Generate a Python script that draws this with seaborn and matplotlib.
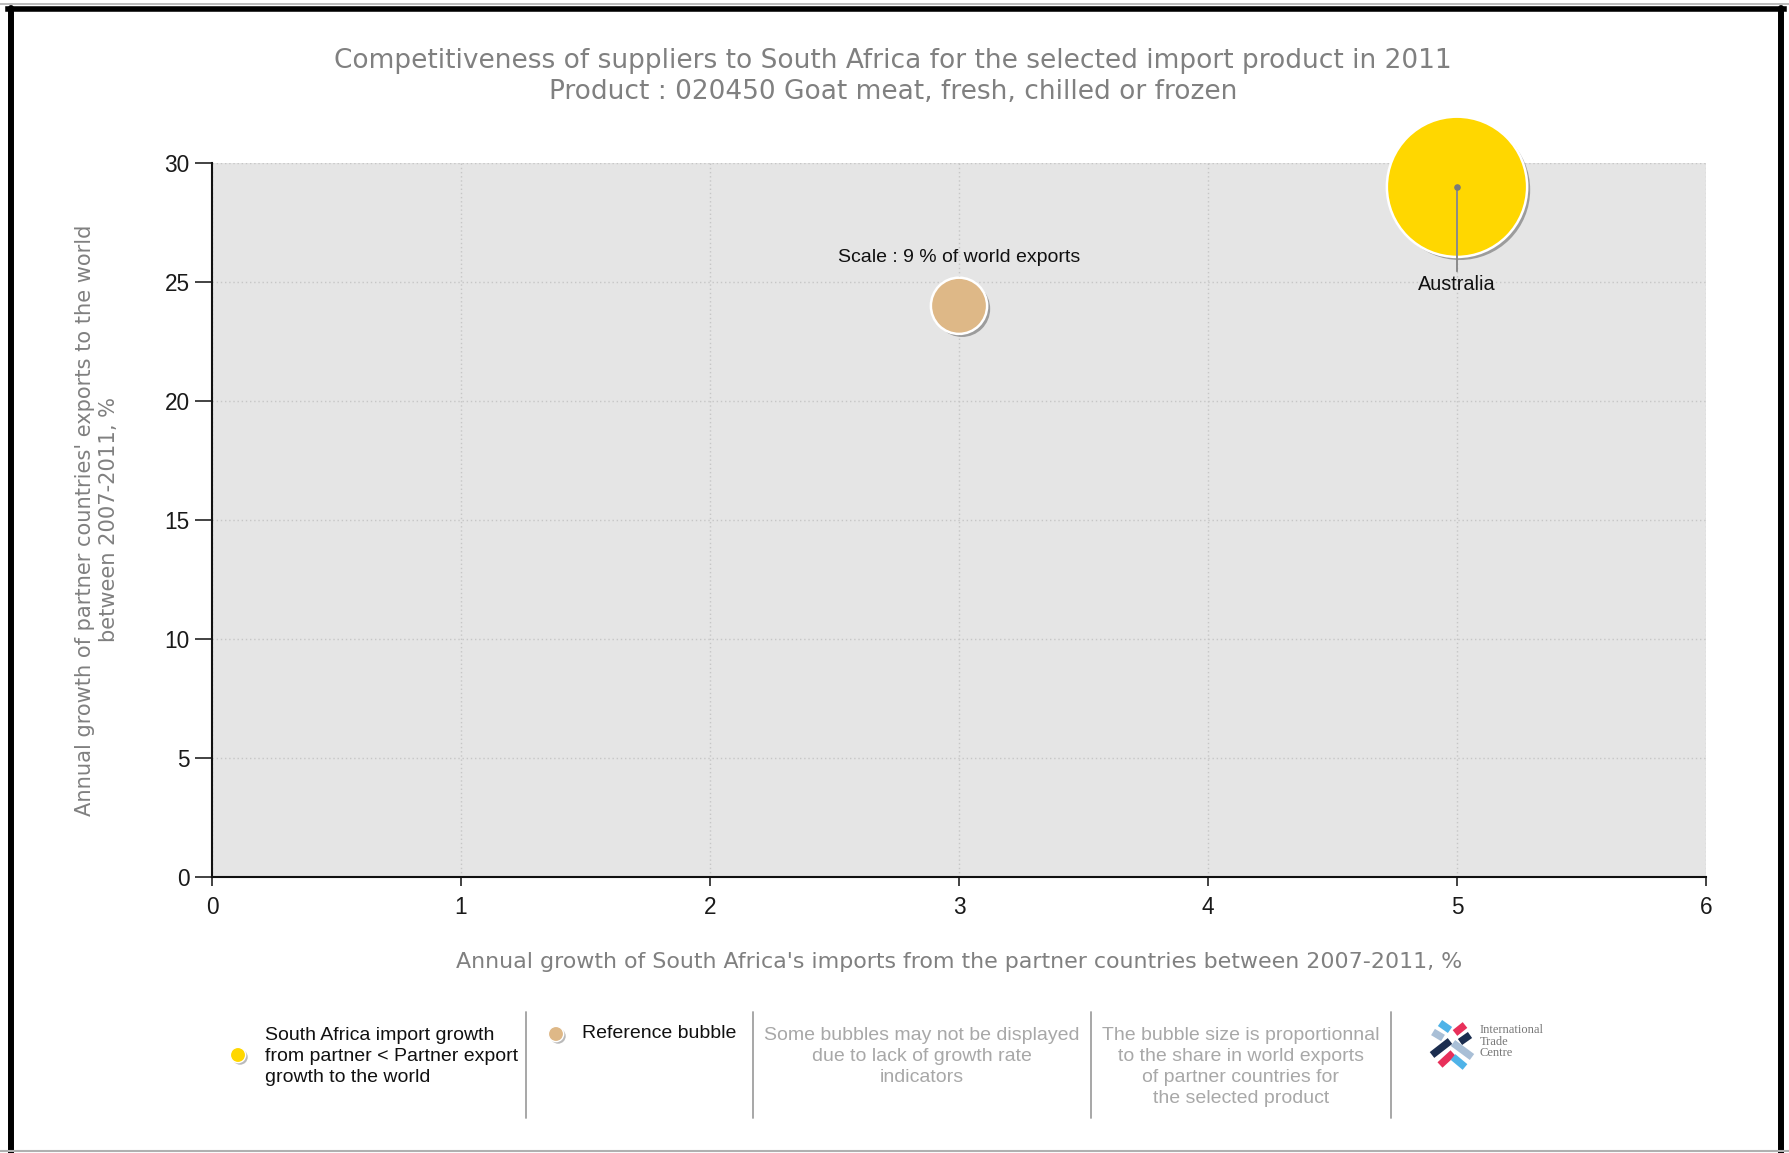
import numpy as np
import pandas as pd
import seaborn as sns
import matplotlib
matplotlib.use("Agg")
import matplotlib.pyplot as plt
import matplotlib.patheffects as pe
from matplotlib.lines import Line2D

# ---------------- data ----------------
partners = ["Reference", "Australia"]
import_growth = [3, 5]          # Annual growth of South Africa's imports from partner, %
export_growth = [24, 29]        # Annual growth of partner exports to the world, %
world_share = [9, 56]           # share in world exports, %
bubble_kind = ["Reference bubble", "Partner"]
kind_colors = {"Reference bubble": "#DEB887", "Partner": "#FFD700"}

x_ticks = [0, 1, 2, 3, 4, 5, 6]
y_ticks = [0, 5, 10, 15, 20, 25, 30]

title_text = ("Competitiveness of suppliers to South Africa for the selected import product in 2011\n"
              "Product : 020450 Goat meat, fresh, chilled or frozen")
x_label = "Annual growth of South Africa's imports from the partner countries between 2007-2011, %"
y_label = "Annual growth of partner countries' exports to the world\nbetween 2007-2011, %"
scale_label = "Scale : 9 % of world exports"
legend_item1 = "South Africa import growth\nfrom partner < Partner export\ngrowth to the world"
legend_item2 = "Reference bubble"
note1 = "Some bubbles may not be displayed\ndue to lack of growth rate\nindicators"
note2 = "The bubble size is proportionnal\nto the share in world exports\nof partner countries for\nthe selected product"
logo_text = "International\nTrade\nCentre"

df = pd.DataFrame({"partner": partners, "imp": import_growth, "exp": export_growth,
                   "share": world_share, "kind": bubble_kind})

# ---------------- figure ----------------
W, H = 1789, 1153
def fx(x): return x / W
def fy(y): return 1 - y / H

sns.set_style("white")
plt.rcParams["font.family"] = ["DejaVu Sans"]
fig = plt.figure(figsize=(W / 100, H / 100), dpi=100)
fig.patch.set_facecolor("white")

ax = fig.add_axes([fx(212), fy(877), (1706 - 212) / W, (877 - 163) / H])
ax.set_facecolor("#e5e5e5")

sns.scatterplot(data=df, x="imp", y="exp", size="share", sizes=(0, 10200), size_norm=(0, 56),
                hue="kind", palette=kind_colors, edgecolor="white", linewidth=1.8,
                alpha=1, legend=False, ax=ax, zorder=3, clip_on=False)
for coll in ax.collections:
    coll.set_clip_on(False)
    coll.set_path_effects([pe.SimplePatchShadow(offset=(2.2, -2.2), shadow_rgbFace="#606060", alpha=0.55),
                           pe.Normal()])

ax.set_xlim(0, 6)
ax.set_ylim(0, 30)
ax.set_xticks(x_ticks)
ax.set_yticks(y_ticks)
ax.set_xticklabels([str(v) for v in x_ticks])
ax.set_yticklabels([str(v) for v in y_ticks])
for lab in ax.get_xticklabels() + ax.get_yticklabels():
    lab.set_fontfamily("Liberation Sans")
    lab.set_color("#1a1a1a")
ax.tick_params(axis="y", left=True, length=12.5, width=1.2, pad=3.5, labelsize=16.3, color="#222222")
ax.tick_params(axis="x", bottom=True, length=6.5, width=1.2, pad=7, labelsize=16.3, color="#222222")

ax.grid(True, linestyle=(0, (1, 2)), color="#c6c6c6", linewidth=1.0, zorder=0)
ax.set_axisbelow(True)
for s in ["top", "right"]:
    ax.spines[s].set_visible(False)
for s in ["left", "bottom"]:
    ax.spines[s].set_color("#111111")
    ax.spines[s].set_linewidth(1.5)

ax.set_xlabel(x_label, fontsize=15.9, color="#808080", va="center")
ax.xaxis.set_label_coords(0.5, (877 - 962) / 714)
ax.set_ylabel(y_label, fontsize=15.1, color="#808080", va="center", linespacing=1.2)
ax.yaxis.set_label_coords((97 - 212) / 1494, 0.5)

# annotations on bubbles
ax.annotate(scale_label, xy=(import_growth[0], export_growth[0]), xytext=(0, 35),
            textcoords="offset points", ha="center", va="center", fontsize=14,
            fontfamily="Liberation Sans", color="#111111", zorder=5)
ax.annotate(partners[1], xy=(import_growth[1], export_growth[1]), xytext=(0, -70),
            textcoords="offset points", ha="center", va="center", fontsize=14.3,
            fontfamily="Liberation Sans", color="#111111", zorder=5,
            arrowprops=dict(arrowstyle="-", color="#8a8a8a", lw=1.4, shrinkA=0, shrinkB=0))
ax.scatter(import_growth[1:], export_growth[1:], s=14, color="#7a7a7a", zorder=6, clip_on=False)

# title
fig.text(fx(893), fy(76), title_text, ha="center", va="center", fontsize=19.0,
         color="#808080", linespacing=1.25)

# ---------------- legend area ----------------
for xs in [526, 753, 1091, 1391]:
    fig.add_artist(Line2D([fx(xs), fx(xs)], [fy(1012), fy(1118)], color="#a0a0a0", lw=1.3))

shadow = [pe.SimplePatchShadow(offset=(1.5, -1.5), shadow_rgbFace="#777777", alpha=0.5), pe.Normal()]
fig.add_artist(Line2D([fx(238)], [fy(1055)], marker="o", markersize=11, color=kind_colors["Partner"],
                      markeredgecolor="white", markeredgewidth=1, path_effects=shadow))
fig.add_artist(Line2D([fx(556)], [fy(1034)], marker="o", markersize=11, color=kind_colors["Reference bubble"],
                      markeredgecolor="white", markeredgewidth=1, path_effects=shadow))
fig.text(fx(265), fy(1027), legend_item1, ha="left", va="top", fontsize=14, color="#111111",
         fontfamily="Liberation Sans", linespacing=1.31)
fig.text(fx(582), fy(1034), legend_item2, ha="left", va="center", fontsize=14, color="#111111",
         fontfamily="Liberation Sans")
fig.text(fx(922), fy(1027), note1, ha="center", va="top", fontsize=14, color="#a8a8a8",
         fontfamily="Liberation Sans", linespacing=1.31, multialignment="center")
fig.text(fx(1241), fy(1027), note2, ha="center", va="top", fontsize=14, color="#a8a8a8",
         fontfamily="Liberation Sans", linespacing=1.31, multialignment="center")

# ITC logo (stylised stripes)
ox, oy = 1400, 1010
stripes = [((40, 13), (50, 20), "#4fb3e8"), ((33, 22), (43, 28), "#a9bfd6"),
           ((55, 23), (65, 15), "#e8305a"), ((60, 32), (70, 25), "#1b2d4f"),
           ((32, 45), (50, 31), "#1b2d4f"), ((53, 33), (72, 47), "#a9bfd6"),
           ((40, 55), (53, 43), "#e8305a"), ((53, 47), (65, 57), "#4fb3e8")]
for (x0, y0), (x1, y1), c in stripes:
    fig.add_artist(Line2D([fx(ox + x0), fx(ox + x1)], [fy(oy + y0), fy(oy + y1)], color=c,
                          lw=5.3, solid_capstyle="butt"))
fig.text(fx(1480), fy(1024), logo_text, ha="left", va="top", fontsize=9.0, color="#777777",
         fontfamily="Liberation Serif", linespacing=0.95)

# ---------------- frame ----------------
fig.add_artist(Line2D([0, 1], [fy(4), fy(4)], color="#b0b0b0", lw=1.2))
fig.add_artist(Line2D([fx(8), fx(1784)], [fy(8.5), fy(8.5)], color="black", lw=4.0, solid_capstyle="projecting"))
fig.add_artist(Line2D([fx(11), fx(11)], [fy(8), 0], color="black", lw=4.3))
fig.add_artist(Line2D([fx(1781), fx(1781)], [fy(8), 0], color="black", lw=4.3))
fig.add_artist(Line2D([0, 1], [fy(1151), fy(1151)], color="#b0b0b0", lw=1.5))

fig.savefig("out.png", dpi=100, facecolor="white")
